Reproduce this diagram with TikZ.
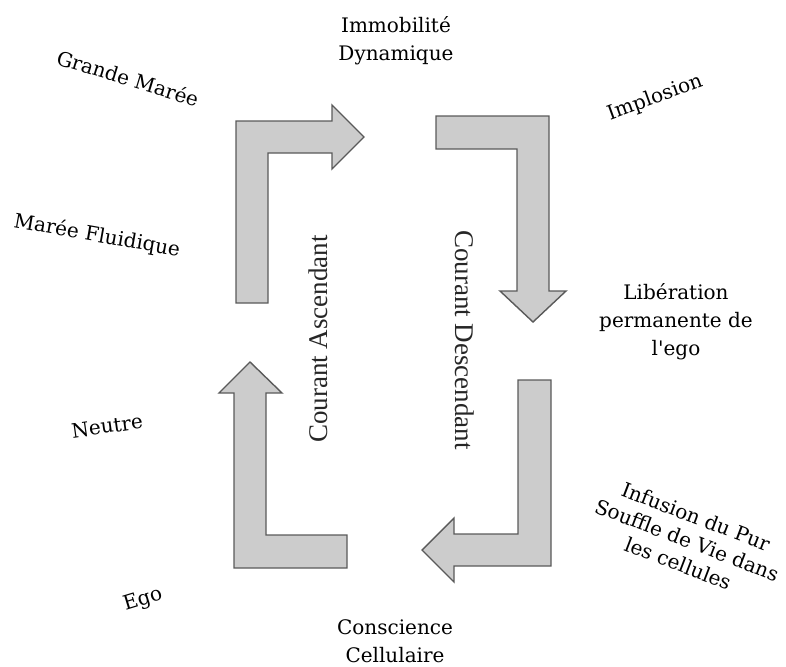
\documentclass[tikz,border=0pt]{standalone}
\usepackage{fontspec}
\newfontfamily\schfont{DejaVu Serif}
\newfontfamily\tmsfont{Liberation Serif}
\definecolor{arrfill}{HTML}{CCCCCC}
\definecolor{arrdraw}{HTML}{5A5A5A}
\begin{document}
\begin{tikzpicture}[x=1pt,y=-1pt,
  blockarrow/.style={fill=arrfill,draw=arrdraw,line width=1.4pt,line join=miter},
  lab/.style={font=\schfont\fontsize{20}{28}\selectfont,align=center,inner sep=0pt,text=black},
  cour/.style={font=\tmsfont\fontsize{27}{30}\selectfont,inner sep=0pt,text=black!85}]
\useasboundingbox (0,0) rectangle (786,666);
% arrow 1: up then right
\draw[blockarrow] (236,303) -- (236,121) -- (332,121) -- (332,105) -- (364,137) -- (332,169) -- (332,153) -- (268,153) -- (268,303) -- cycle;
% arrow 2: right then down
\draw[blockarrow] (436,116) -- (549,116) -- (549,291) -- (566,291) -- (533,322) -- (500,291) -- (517,291) -- (517,149) -- (436,149) -- cycle;
% arrow 3: left then up
\draw[blockarrow] (347,568) -- (234,568) -- (234,393) -- (219,393) -- (250,362) -- (282,393) -- (266,393) -- (266,535) -- (347,535) -- cycle;
% arrow 4: down then left
\draw[blockarrow] (518,380) -- (551,380) -- (551,566) -- (454,566) -- (454,582) -- (422,550) -- (454,518) -- (454,534) -- (518,534) -- cycle;
% labels
\node[cour,rotate=90] (asc) at (318.5,339) {Courant Ascendant};
\node[cour,rotate=-90] (desc) at (465,340) {Courant Descendant};
\node[lab] (imm) at (396,41) {Immobilité\\Dynamique};
\node[lab] (cons) at (395,641) {Conscience\\Cellulaire};
\node[lab] (lib) at (676,322) {Libération\\permanente de\\l'ego};
\node[lab,rotate=20] (imp) at (655,98) {Implosion};
\node[lab,rotate=-17] (gm) at (128,78) {Grande Marée};
\node[lab,rotate=-10] (mf) at (97,236) {Marée Fluidique};
\node[lab,rotate=8] (neu) at (107,426) {Neutre};
\node[lab,rotate=17] (ego) at (143,600) {Ego};
\node[lab,rotate=-21,font=\schfont\fontsize{20}{25}\selectfont] (inf) at (687,540) {Infusion du Pur\\Souffle de Vie dans\\les cellules};
\end{tikzpicture}
\end{document}
